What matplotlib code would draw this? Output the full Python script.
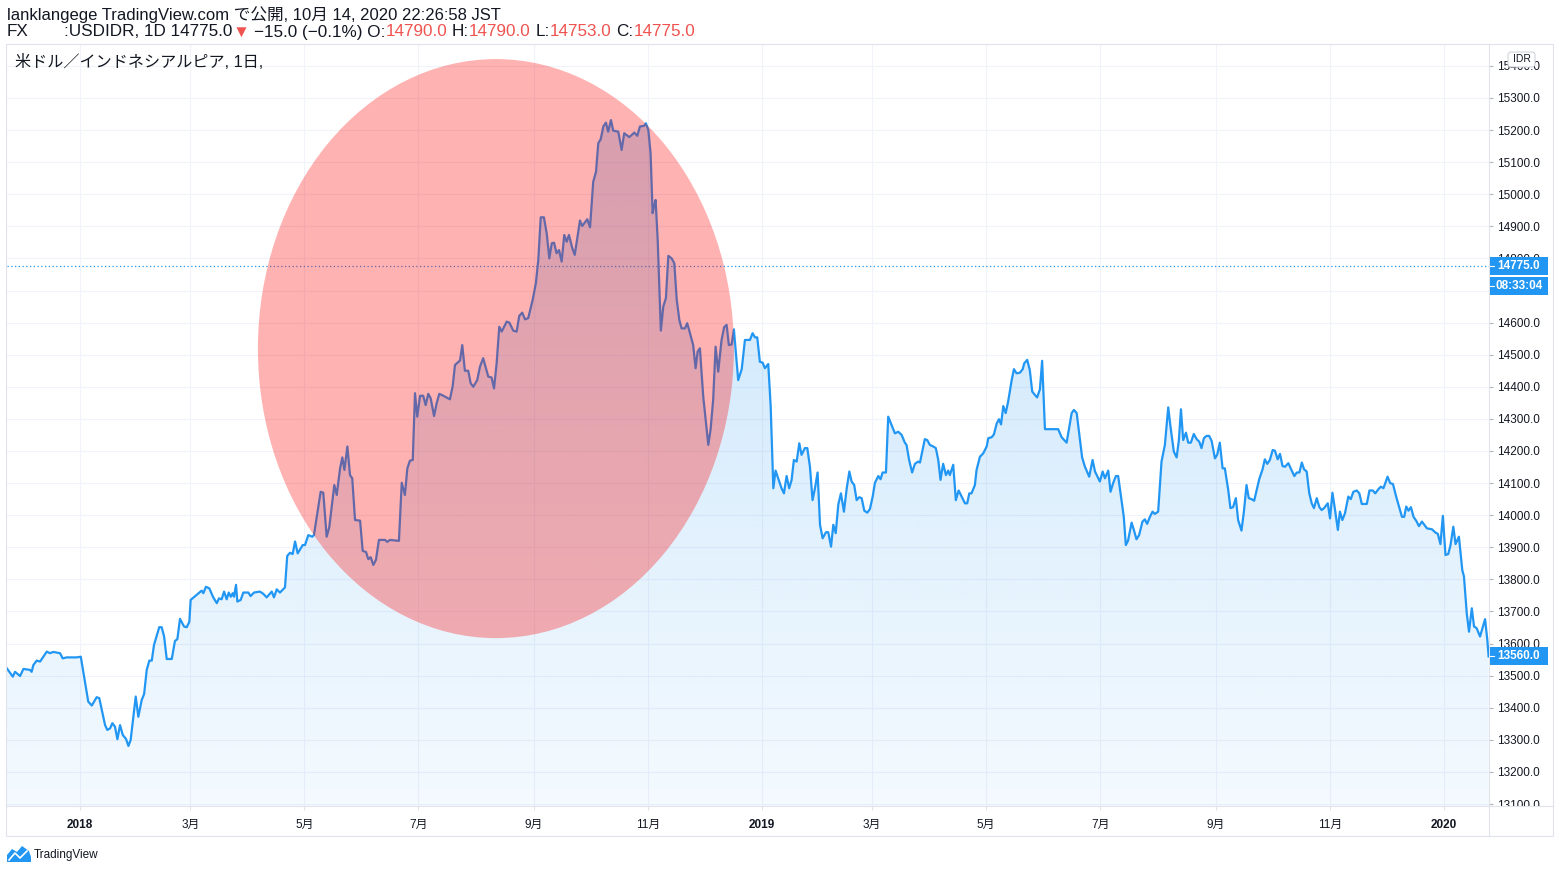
import numpy as np
import pandas as pd
import matplotlib
matplotlib.use('Agg')
import matplotlib.pyplot as plt
import matplotlib.dates as mdates
from matplotlib.patches import Ellipse, Rectangle, FancyBboxPatch, Polygon
from matplotlib.lines import Line2D
from matplotlib.transforms import IdentityTransform

plt.rcParams['font.family'] = ['Liberation Sans', 'Noto Sans CJK JP', 'DejaVu Sans']

# USD/IDR daily closes, x = days since 2018-01-01
days = [
    -39.2, -36.0, -34.8, -32.1, -30.3, -26.8, -25.9, -25.0, -23.2, -21.4, -17.8, -16.1, -14.3, -10.7, -9.3, -7.1,
    -1.8, 0.4, 4.4, 6.3, 8.9, 10.3, 13.4, 14.6, 16.1, 17.3, 18.7, 20.0, 21.4, 22.9, 24.6, 25.9, 27.1, 29.8, 31.2,
    33.0, 34.3, 35.7, 37.1, 38.4, 39.6, 42.4, 43.7, 45.0, 46.4, 49.1, 50.8, 52.1, 53.5, 55.7, 57.1, 58.5, 59.2,
    62.5, 65.1, 66.0, 67.4, 69.2, 71.3, 73.2, 74.4, 75.8, 77.1, 78.5, 79.6, 80.7, 81.7, 82.4, 83.5, 84.2, 86.0,
    87.4, 90.1, 91.3, 93.1, 96.3, 98.1, 99.9, 102.6, 103.8, 105.3, 107.0, 109.7, 110.9, 112.4, 113.8, 115.1, 116.5,
    119.2, 120.4, 122.2, 124.3, 125.2, 126.7, 128.8, 130.2, 132.0, 133.4, 136.1, 137.4, 139.2, 140.4, 141.5, 143.1,
    144.5, 145.7, 147.2, 149.9, 151.3, 153.1, 154.3, 155.6, 157.0, 158.4, 160.0, 163.2, 164.5, 165.9, 170.7, 172.2,
    173.9, 175.2, 176.6, 178.1,
    179.3, 180.5, 182.0, 183.7, 185.0, 186.4, 187.7, 189.5, 190.9, 192.3, 194.5, 197.1, 198.0, 199.5, 200.7, 203.4,
    204.6, 206.0, 207.8, 209.1, 210.5, 212.6, 214.1, 215.8, 218.5, 220.3, 221.6, 223.0, 224.4, 225.7, 228.4, 229.8,
    231.9, 233.7, 235.1, 236.7, 238.2, 239.9, 242.3, 244.0, 245.3, 246.6, 248.3, 249.8, 251.2, 252.5, 253.7, 255.1,
    256.4, 257.8, 259.2, 260.5, 261.7, 263.5, 264.8, 267.6, 268.8, 271.5, 273.0, 274.7, 276.2, 277.4, 278.7, 280.1,
    281.5, 282.7, 284.2, 285.4, 288.1, 289.9, 291.3, 294.0, 296.7, 298.3, 299.7, 301.9, 302.9, 304.2, 305.4, 306.5,
    307.2, 308.1, 309.2, 310.9, 312.2, 313.6, 314.9, 316.7, 318.1, 319.4, 320.8, 322.0, 323.8, 325.0, 326.5, 328.2,
    329.5, 330.6, 331.8, 333.6, 336.3, 337.5, 338.9, 340.2, 341.6, 343.4, 344.8, 346.1, 347.3, 348.8, 350.0,
    352.3, 354.2, 355.9, 358.6, 360.0, 361.3, 362.5, 363.9, 365.4, 366.6, 368.4, 369.7, 371.1, 372.3, 373.7, 375.5,
    376.8, 378.2, 379.6, 380.9, 382.1, 383.6, 385.0, 386.2, 388.0, 389.3, 390.7, 392.1, 393.4, 394.8, 396.1, 397.5,
    399.3, 400.5, 402.0, 403.2, 404.5, 405.9, 407.3, 408.9, 410.4, 411.8, 413.0, 414.4, 415.7, 417.1, 418.4, 419.8,
    421.4, 422.8, 424.3, 425.5, 427.3, 428.5, 429.6, 431.4, 432.6, 434.4, 436.2, 438.0, 439.8, 441.5, 442.4, 443.8,
    445.4, 446.9, 448.6, 449.6, 450.8, 452.2, 453.5, 454.9, 456.7, 458.1, 459.4, 460.6, 462.0, 463.5, 464.7, 465.6,
    467.4, 468.8, 470.3, 471.9, 473.7, 474.9, 476.0, 477.2, 479.0, 479.9, 481.7, 483.5, 485.3, 486.2, 488.0, 489.2,
    490.7, 491.9, 493.0, 494.2, 495.5, 496.8, 498.7, 499.9, 501.3, 503.1, 504.6, 505.4, 507.0, 508.4, 509.7, 511.1,
    512.3, 513.8, 515.0, 516.5, 523.6, 525.4, 527.2, 528.1, 530.8, 532.0, 533.5, 534.8, 536.4, 537.9, 540.2, 542.0,
    543.3, 545.9,
    547.4, 548.6, 550.4, 551.6, 553.0, 554.5, 555.7, 557.5, 558.7, 559.8, 561.0, 562.9, 564.2, 565.5, 566.9, 568.7,
    570.0, 571.2, 572.7, 574.1, 575.3, 577.1, 578.9, 580.7, 582.5, 583.7, 585.5, 587.0, 588.2, 589.3, 590.5, 592.0,
    593.2, 594.6, 596.2, 597.7, 599.1, 600.3, 601.6, 603.0, 604.4, 605.7, 607.5, 608.7, 610.1, 611.6, 612.8, 614.6,
    615.8, 617.2, 618.7, 619.9, 621.7, 623.0, 624.4, 625.6, 627.1, 628.5, 631.2, 633.0, 634.2, 635.5, 636.9, 638.4,
    639.6, 641.1, 642.3, 643.7, 645.0, 646.8, 648.6, 650.0, 651.3, 652.7, 654.0, 655.2, 656.6, 658.0, 659.3, 660.5,
    662.0, 663.4, 664.6, 665.9, 667.9, 669.1, 670.4, 671.8, 673.3, 674.4, 675.7, 677.1, 678.9, 680.2, 681.6, 683.4,
    684.8, 686.1, 688.8, 690.2, 692.0, 693.3, 695.0, 696.3, 697.7, 699.9, 701.3, 702.8, 704.5, 707.6, 708.8, 709.9,
    711.1, 712.4, 713.8, 715.3, 716.7, 718.3, 720.1, 721.0, 723.7, 725.5, 726.8, 728.2, 729.5, 730.9, 732.4, 733.6,
    735.1, 736.3, 738.1, 739.9, 740.8, 742.3, 743.5, 745.0, 746.2, 747.6, 749.4, 752.1, 753.3, 754.0,
]
close = [
    13523, 13497, 13512, 13499, 13521, 13518, 13512, 13533, 13547, 13544, 13575, 13570, 13574, 13570, 13554, 13557,
    13557, 13559, 13419, 13407, 13433, 13430, 13346, 13331, 13336, 13352, 13341, 13302, 13346, 13315, 13303, 13281,
    13300, 13435, 13372, 13424, 13443, 13518, 13547, 13547, 13596, 13651, 13651, 13622, 13552, 13552, 13608, 13614,
    13677, 13653, 13651, 13668, 13736, 13752, 13765, 13757, 13777, 13772, 13744, 13726, 13741, 13738, 13762, 13738,
    13759, 13746, 13757, 13746, 13783, 13731, 13736, 13759, 13759, 13748, 13759, 13762, 13755, 13744, 13762, 13744,
    13769, 13759, 13775, 13873, 13883, 13879, 13918, 13881,
    13907, 13907, 13938, 13933, 13938, 13995, 14073, 14070, 13933, 13962, 14094, 14063, 14146, 14180, 14141, 14214,
    14125, 14115, 13985, 13983, 13889, 13885, 13863, 13869, 13845, 13861, 13923, 13923, 13917, 13923, 13920, 14101,
    14063, 14146, 14170, 14172,
    14380, 14307, 14372, 14372, 14343, 14378, 14364, 14309, 14349, 14378, 14372, 14364, 14361, 14403, 14468, 14482,
    14530, 14450, 14450, 14411, 14400, 14421, 14463, 14489, 14432, 14429, 14395, 14473, 14587, 14572, 14603, 14600,
    14575, 14572, 14621, 14631, 14610, 14614, 14671, 14723, 14795, 14928, 14928, 14878, 14800, 14847, 14849, 14816,
    14826, 14790, 14873, 14852, 14873, 14832, 14811, 14918, 14901, 14922, 14897, 15039, 15070, 15159, 15171, 15211,
    15223, 15195, 15231, 15198, 15195, 15138, 15190, 15178, 15192, 15182, 15211, 15213, 15221, 15200, 15128, 14941,
    14961, 14982, 14858, 14575, 14650, 14676, 14808, 14800, 14785, 14671, 14608, 14582, 14582, 14598, 14567, 14530,
    14458, 14510, 14520, 14369, 14219, 14266, 14359, 14525, 14447, 14546, 14586, 14593, 14530, 14532, 14579,
    14421, 14455, 14546, 14546, 14567, 14554, 14554, 14478, 14475, 14458, 14471, 14338, 14084, 14139, 14115, 14084,
    14068, 14122, 14084, 14110, 14172, 14167, 14224, 14188, 14209, 14209, 14151, 14047, 14084, 14133, 13970, 13928,
    13947, 13947, 13902, 13970, 13944, 14034, 14068, 14011, 14084, 14136, 14105, 14094, 14047, 14056, 14053, 14014,
    14008, 14019, 14058, 14101, 14122, 14112, 14133, 14133, 14307, 14281, 14255, 14260, 14250, 14226, 14219, 14172,
    14133, 14160, 14167, 14164, 14198, 14237, 14234, 14219, 14214, 14209, 14172, 14110, 14160, 14125, 14139, 14125,
    14157, 14047, 14077, 14058, 14037, 14037, 14068, 14068, 14094, 14141, 14182, 14193, 14214, 14240, 14243, 14252,
    14286, 14299, 14283, 14340, 14318, 14354, 14421, 14455, 14442, 14444, 14455, 14473, 14484, 14452, 14385, 14375,
    14367, 14392, 14481, 14268, 14268, 14243, 14232, 14226, 14318, 14328, 14318, 14255, 14180, 14151, 14120, 14172,
    14136, 14105,
    14136, 14115, 14139, 14073, 14100, 14122, 14122, 14047, 13995, 13907, 13921, 13977, 13952, 13925, 13938, 13980,
    13987, 13973, 13995, 14011, 14004, 14011, 14167, 14219, 14336, 14276, 14198, 14180, 14234, 14330, 14234, 14257,
    14226, 14226, 14253, 14237, 14229, 14209, 14240, 14247, 14247, 14232, 14177, 14188, 14226, 14146, 14146, 14079,
    14022, 14025, 14053, 13985, 13952, 14011, 14094, 14053, 14050, 14045, 14112, 14143, 14174, 14160, 14172, 14203,
    14201, 14174, 14191, 14153, 14151, 14162, 14139, 14122, 14133, 14133, 14164, 14143, 14136, 14068, 14037, 14022,
    14053, 14025, 14016, 14022, 14037, 13990, 14070, 14016, 13954, 14011, 13985, 14006, 14058, 14050, 14073, 14077,
    14068, 14035, 14035, 14077, 14077, 14068, 14081, 14089, 14084, 14120, 14100, 14097, 14058, 13995, 13995, 14027,
    14014, 14025, 13995, 13982, 13966, 13980, 13966, 13959, 13956, 13946, 13942, 13910, 13998, 13876, 13879, 13907,
    13964, 13910, 13933, 13829, 13809, 13694, 13637, 13710, 13653, 13648, 13622, 13676, 13611, 13560,
]

tick_dates = ['2018-01-01', '2018-03-01', '2018-05-01', '2018-07-01', '2018-09-01', '2018-11-01', '2019-01-01',
              '2019-03-01', '2019-05-01', '2019-07-01', '2019-09-01', '2019-11-01', '2020-01-01']
tick_labels = ['2018', '3月', '5月', '7月', '9月', '11月', '2019', '3月', '5月', '7月', '9月', '11月', '2020']
price_ticks = np.arange(13100, 15401, 100)

last_quote = 14775.0
last_bar = 13560.0
countdown = '08:33:04'

W, H = 1560, 873
BLUE = '#2196f3'
TXT = '#131722'
RED = '#ef5350'
BORDER = '#e0e3eb'


def fx(px):
    return px / W


def fy(py):
    return 1 - py / H


fig = plt.figure(figsize=(W / 100, H / 100), dpi=100)
ax = fig.add_axes([fx(7), fy(806), fx(1489) - fx(7), fy(44) - fy(806)])

t0 = mdates.date2num(pd.Timestamp('2018-01-01'))
x = t0 + np.array(days)
y = np.array(close, dtype=float)

ymin, ymax = 13094, 15468

# gradient area under the line
fill = ax.fill_between(x, y, ymin, facecolor='none', edgecolor='none')
grad = np.zeros((256, 1, 4))
grad[:, 0, 0] = 33 / 255
grad[:, 0, 1] = 150 / 255
grad[:, 0, 2] = 243 / 255
grad[:, 0, 3] = np.linspace(0.28, 0.05, 256)
im = ax.imshow(grad, aspect='auto', extent=[x[0] - 1, x[-1] + 1, ymin, ymax], origin='upper',
               interpolation='bilinear', zorder=1.2)
im.set_clip_path(fill.get_paths()[0], transform=ax.transData)
ax.set_xlim(t0 - 39.1, t0 + 754.2)
ax.set_ylim(ymin, ymax)

ax.plot(x, y, color=BLUE, lw=1.6, zorder=3, solid_joinstyle='round')
ax.axhline(last_quote, color=BLUE, lw=0.9, ls=(0, (1, 2)), zorder=2.6)

# highlight ellipse
ax.add_patch(Ellipse((t0 + 222.6, 14519), 254.8, 1804, facecolor=(1, 0, 0, 0.3), edgecolor='none', zorder=4))

ax.set_xticks([mdates.date2num(pd.Timestamp(d)) for d in tick_dates])
ax.set_xticklabels(tick_labels)
for lab, s in zip(ax.get_xticklabels(), tick_labels):
    if not s.endswith('月'):
        lab.set_fontweight('bold')
ax.set_yticks(price_ticks)
# 14700 sits fully under the countdown tag
ax.set_yticklabels(['' if v == 14700 else f'{v:.1f}' for v in price_ticks])
ax.yaxis.tick_right()
ax.tick_params(axis='y', length=3, width=0.8, color='#b2b5be', pad=3, labelsize=8.5, labelcolor=TXT)
ax.tick_params(axis='x', length=3, width=0.8, color=BORDER, pad=6, labelsize=8.5, labelcolor=TXT)
ax.grid(True, color='#f0f3fa', lw=0.75)
ax.set_axisbelow(True)
for s in ['top', 'left']:
    ax.spines[s].set_visible(False)
for s in ['right', 'bottom']:
    ax.spines[s].set_color(BORDER)
    ax.spines[s].set_linewidth(0.8)

# outer frame and scale separators
fig.add_artist(Rectangle((fx(6), fy(836)), fx(1553) - fx(6), fy(44) - fy(836), transform=fig.transFigure,
                         fill=False, edgecolor=BORDER, lw=0.8, zorder=6))
fig.add_artist(Line2D([fx(1489), fx(1553)], [fy(806), fy(806)], color=BORDER, lw=0.8, zorder=6))
fig.add_artist(Line2D([fx(1489), fx(1489)], [fy(806), fy(836)], color=BORDER, lw=0.8, zorder=6))
fig.add_artist(Rectangle((fx(1490), fy(835)), fx(1552) - fx(1490), fy(807) - fy(835), transform=fig.transFigure,
                         facecolor='white', edgecolor='none', zorder=5))

# price scale tags
fig.canvas.draw()
ident = IdentityTransform()


def price_tag(value, text, dy=0):
    yd = ax.transData.transform((0, value))[1] + dy
    fig.add_artist(Rectangle((1490, yd - 9), 58, 18, transform=ident, facecolor=BLUE, edgecolor='none', zorder=7))
    fig.add_artist(Line2D([1490, 1494], [yd, yd], transform=ident, color='white', lw=0.8, zorder=8))
    fig.text(1519 / W, yd / H, text, color='white', fontsize=8.5, fontweight='bold', ha='center', va='center',
             zorder=8)


price_tag(last_quote, f'{last_quote:.1f}')
price_tag(last_quote, countdown, dy=-20)
price_tag(last_bar, f'{last_bar:.1f}')

# currency badge
fig.add_artist(FancyBboxPatch((1508, H - 67), 27, 15, boxstyle='round,pad=0,rounding_size=3', transform=ident,
                              facecolor='white', edgecolor='#d1d4dc', lw=0.8, zorder=7))
fig.text(1521.5 / W, fy(59.5), 'IDR', fontsize=7.5, color=TXT, ha='center', va='center', zorder=8)

# header
HS = 12
HS2 = 12.3
fig.text(fx(7), fy(15), 'lanklangege TradingView.com で公開, 10月 14, 2020 22:26:58 JST', fontsize=HS,
         color=TXT, va='center')
fig.text(fx(7), fy(32), 'FX', fontsize=HS2, color=TXT, va='center')

renderer = fig.canvas.get_renderer()


def text_w(s, size):
    t = fig.text(0, 0, s, fontsize=size)
    w = t.get_window_extent(renderer).width
    t.remove()
    return w


space_w = text_w('a a', HS2) - text_w('aa', HS2)
parts = [(':USDIDR, 1D 14775.0', TXT), ('▼', RED), (' −15.0 (−0.1%) O:', TXT), ('14790.0', RED),
         (' H:', TXT), ('14790.0', RED), (' L:', TXT), ('14753.0', RED), (' C:', TXT), ('14775.0', RED)]
xp = 64
for s, c in parts:
    n = len(s) - len(s.lstrip(' '))
    xp += n * space_w
    t = fig.text(fx(xp), fy(32), s.lstrip(' '), fontsize=HS2, color=c, va='center')
    xp += t.get_window_extent(renderer).width

fig.text(fx(15), fy(62), '米ドル／インドネシアルピア, 1日,', fontsize=11.6, color=TXT, va='center', zorder=8)

# footer logo
fig.add_artist(Polygon([(fx(7), fy(862)), (fx(7), fy(855)), (fx(12), fy(849)), (fx(17), fy(852)),
                        (fx(22), fy(846)), (fx(29), fy(851)), (fx(31), fy(857)), (fx(31), fy(862))],
                       closed=True, transform=fig.transFigure, facecolor=BLUE, edgecolor='none'))
fig.add_artist(Line2D([fx(9), fx(15), fx(20), fx(27)], [fy(860), fy(853), fy(858), fy(851)], color='white', lw=1.2))
fig.text(fx(34), fy(855), 'TradingView', fontsize=8.5, color=TXT, va='center')

fig.savefig('out.png', dpi=100)
